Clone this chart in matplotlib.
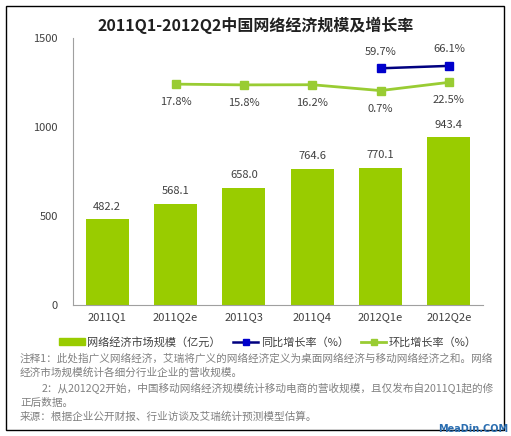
import matplotlib.pyplot as plt
from matplotlib.patches import Rectangle, Patch
from matplotlib.lines import Line2D

plt.rcParams['font.family'] = ['Noto Sans CJK SC', 'DejaVu Sans']

# data
quarters = ['2011Q1', '2011Q2e', '2011Q3', '2011Q4', '2012Q1e', '2012Q2e']
market_size = [482.2, 568.1, 658.0, 764.6, 770.1, 943.4]
qoq_x = [1, 2, 3, 4, 5]
qoq_rate = [17.8, 15.8, 16.2, 0.7, 22.5]
yoy_x = [4, 5]
yoy_rate = [59.7, 66.1]

title = '2011Q1-2012Q2中国网络经济规模及增长率'
legend_labels = ['网络经济市场规模（亿元）', '同比增长率（%）', '环比增长率（%）']
notes = [
    '注释1：此处指广义网络经济，艾瑞将广义的网络经济定义为桌面网络经济与移动网络经济之和。网络',
    '经济市场规模统计各细分行业企业的营收规模。',
    '2：从2012Q2开始，中国移动网络经济规模统计移动电商的营收规模，且仅发布自2011Q1起的修',
    '正后数据。',
    '来源：根据企业公开财报、行业访谈及艾瑞统计预测模型估算。',
]
note_x = [20, 20, 42, 20, 20]
note_y = [358, 372, 388, 403, 417]

bar_green = '#99CC00'
line_green = '#99CC33'
blue = '#0000CC'
text_col = '#404040'

fig = plt.figure(figsize=(5.11, 4.36), dpi=100)
ax = fig.add_axes([0.1429, 0.3005, 0.8023, 0.6124])

x = range(len(quarters))
ax.bar(x, market_size, width=0.63, color=bar_green, zorder=2)
for xi, v in zip(x, market_size):
    ax.annotate(f'{v:.1f}', (xi, v), xytext=(0, 9), textcoords='offset points',
                ha='center', va='center', fontsize=8, color=text_col)

ax.set_ylim(0, 1500)
ax.set_xlim(-0.5, len(quarters) - 0.5)
ax.set_yticks([0, 500, 1000, 1500])
ax.set_xticks(list(x))
ax.set_xticklabels(quarters)
ax.tick_params(axis='both', length=0, labelsize=8, colors=text_col)
ax.tick_params(axis='y', pad=11)
ax.tick_params(axis='x', pad=5)
for s in ['top', 'right']:
    ax.spines[s].set_visible(False)
for s in ['left', 'bottom']:
    ax.spines[s].set_color('#a0a0a0')
    ax.spines[s].set_linewidth(0.8)

# growth rates on a hidden secondary axis
ax2 = ax.twinx()
ax2.set_ylim(-567, 140)
ax2.axis('off')
ax2.plot(qoq_x, qoq_rate, color=line_green, lw=2, marker='s', ms=6,
         mfc=line_green, mec=line_green)
ax2.plot(yoy_x, yoy_rate, color='#000080', lw=1.8, marker='s', ms=6,
         mfc=blue, mec=blue)
for xi, v in zip(qoq_x, qoq_rate):
    ax2.annotate(f'{v}%', (xi, v), xytext=(0, -13), textcoords='offset points',
                 ha='center', va='center', fontsize=8, color=text_col)
for xi, v in zip(yoy_x, yoy_rate):
    ax2.annotate(f'{v}%', (xi, v), xytext=(0, 12), textcoords='offset points',
                 ha='center', va='center', fontsize=8, color=text_col)

fig.text(0.501, 1 - 25 / 436, title, ha='center', va='center',
         fontsize=11.5, fontweight='bold', color='#202020')

handles = [
    Patch(color=bar_green),
    Line2D([0], [0], color='#000080', lw=1.8, marker='s', ms=4, mfc=blue, mec=blue),
    Line2D([0], [0], color=line_green, lw=2, marker='s', ms=4, mfc=line_green, mec=line_green),
]
fig.legend(handles, legend_labels, loc='center', bbox_to_anchor=(268 / 511, 1 - 342 / 436),
           ncol=3, frameon=False, fontsize=8, handlelength=2.3, handleheight=0.5,
           handletextpad=0.2, columnspacing=1.1, labelcolor=text_col)

for line, xx, yy in zip(notes, note_x, note_y):
    fig.text(xx / 511, 1 - yy / 436, line, ha='left', va='center',
             fontsize=7.65, color='#808080')

fig.add_artist(Rectangle((6 / 511, 1 - 430 / 436), 498 / 511, 424 / 436,
                         transform=fig.transFigure, fill=False, ec='black', lw=1))
fig.text(508 / 511, 1 - 429 / 436, 'MeaDin.COM', ha='right', va='center',
         fontsize=7, fontweight='bold', color='#2a6db0', family='DejaVu Sans')

fig.savefig('out.png', dpi=100)
